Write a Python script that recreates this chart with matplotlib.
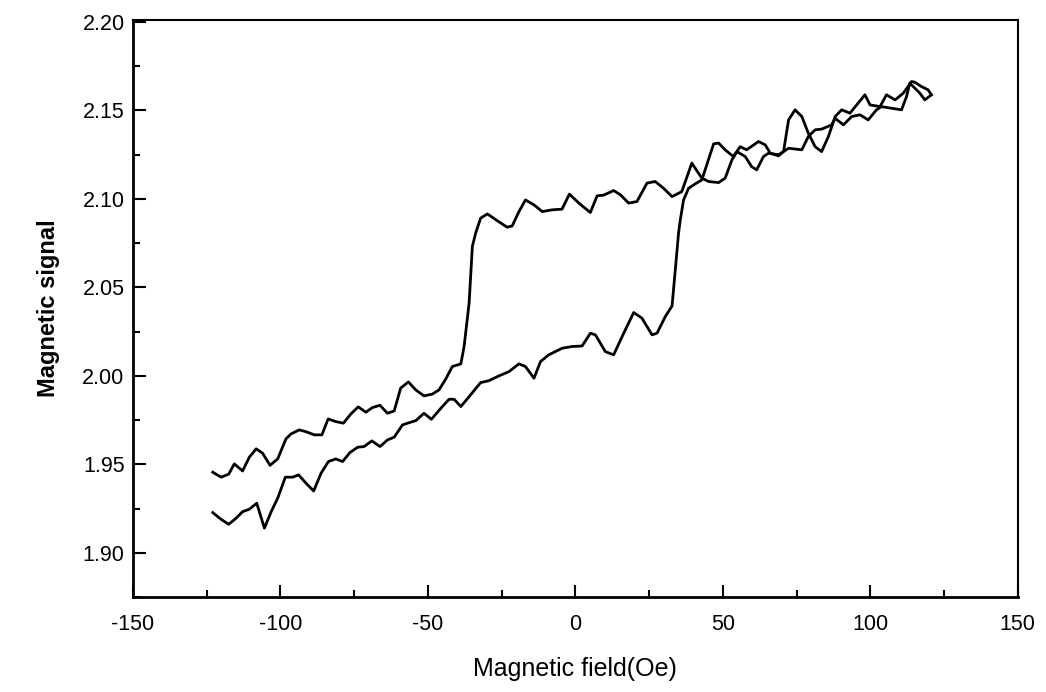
import numpy as np
import matplotlib
matplotlib.use("Agg")
import matplotlib.pyplot as plt
from matplotlib.ticker import MultipleLocator

plt.rcParams['font.family'] = ['Liberation Sans', 'DejaVu Sans']
plt.rcParams['axes.unicode_minus'] = False

# lower branch (field increasing)
h_up = [-122.9, -120.1, -117.5, -115.0, -112.8, -110.5, -108.0, -105.4, -103.1, -100.9,
        -98.3, -95.8, -93.8, -91.3, -88.7, -86.2, -83.7, -81.2, -78.9, -76.4,
        -73.8, -71.6, -69.0, -66.2, -63.7, -61.4, -58.6, -56.3, -54.1, -51.3,
        -48.8, -45.6, -42.8, -41.1, -38.8, -36.0, -32.1, -29.3, -25.9, -22.5,
        -19.1, -16.9, -14.0, -11.8, -9.0, -4.5, -1.1, 2.3, 5.1, 6.8,
        10.2, 13.0, 16.4, 19.8, 22.6, 26.0, 27.7, 30.5, 32.8, 33.9,
        35.0, 35.6, 36.7, 38.4, 40.7, 42.9, 46.9, 48.6, 50.8, 53.6,
        55.9, 58.1, 62.1, 64.4, 66.1, 68.9, 70.6, 72.3, 74.5, 76.8,
        79.0, 81.3, 83.5, 85.8, 88.1, 90.3, 93.1, 98.2, 99.9, 103.3,
        105.5, 108.4, 111.2, 114.0, 115.1, 117.4, 119.6, 120.7]
m_up = [1.9228, 1.9190, 1.9162, 1.9196, 1.9233, 1.9247, 1.9281, 1.9140, 1.9233, 1.9309,
        1.9428, 1.9428, 1.9441, 1.9394, 1.9350, 1.9450, 1.9516, 1.9531, 1.9516, 1.9567,
        1.9597, 1.9601, 1.9633, 1.9601, 1.9638, 1.9654, 1.9723, 1.9736, 1.9747, 1.9789,
        1.9755, 1.9817, 1.9868, 1.9868, 1.9827, 1.9883, 1.9962, 1.9973, 2.0000, 2.0024,
        2.0068, 2.0053, 1.9987, 2.0081, 2.0119, 2.0156, 2.0166, 2.0169, 2.0241, 2.0232,
        2.0137, 2.0119, 2.0241, 2.0358, 2.0326, 2.0232, 2.0241, 2.0335, 2.0395, 2.0599,
        2.0806, 2.0881, 2.0994, 2.1060, 2.1085, 2.1107, 2.1311, 2.1315, 2.1277, 2.1239,
        2.1295, 2.1277, 2.1324, 2.1305, 2.1258, 2.1243, 2.1267, 2.1446, 2.1503, 2.1465,
        2.1371, 2.1295, 2.1267, 2.1352, 2.1465, 2.1503, 2.1484, 2.1588, 2.1531, 2.1521,
        2.1588, 2.1559, 2.1597, 2.1663, 2.1659, 2.1634, 2.1616, 2.1588]

# upper branch (field decreasing), listed by increasing field
h_down = [-122.9, -120.1, -117.5, -115.6, -112.8, -110.5, -108.2, -106.0, -103.5, -100.9,
          -98.1, -96.4, -93.6, -91.3, -88.5, -85.9, -83.8, -81.2, -78.6, -76.1,
          -73.6, -71.0, -68.8, -66.2, -63.7, -61.4, -59.2, -56.6, -54.1, -51.3,
          -48.5, -46.2, -43.9, -41.7, -38.8, -37.7, -36.0, -34.9, -33.8, -32.1,
          -29.8, -26.5, -23.1, -21.4, -19.1, -16.9, -14.0, -11.2, -7.9, -4.5,
          -2.0, 1.2, 5.1, 7.4, 9.6, 13.0, 15.3, 18.1, 20.9, 24.3,
          27.1, 29.9, 32.8, 36.1, 39.5, 42.9, 45.2, 48.6, 50.8, 53.1,
          54.8, 57.6, 59.8, 61.5, 63.8, 65.5, 68.9, 72.3, 76.8, 79.0,
          81.3, 83.5, 86.9, 88.1, 90.9, 93.7, 96.5, 99.3, 102.1, 103.8,
          110.6, 112.3, 113.4, 116.8, 118.5, 120.7]
m_down = [1.9456, 1.9428, 1.9445, 1.9503, 1.9463, 1.9541, 1.9588, 1.9563, 1.9495, 1.9531,
          1.9644, 1.9672, 1.9695, 1.9685, 1.9667, 1.9667, 1.9757, 1.9742, 1.9733, 1.9785,
          1.9825, 1.9795, 1.9821, 1.9834, 1.9789, 1.9802, 1.9931, 1.9966, 1.9921, 1.9887,
          1.9897, 1.9921, 1.9983, 2.0053, 2.0068, 2.0166, 2.0411, 2.0731, 2.0806, 2.0891,
          2.0915, 2.0877, 2.0840, 2.0847, 2.0928, 2.0994, 2.0966, 2.0928, 2.0938, 2.0942,
          2.1027, 2.0976, 2.0923, 2.1017, 2.1021, 2.1047, 2.1023, 2.0976, 2.0985, 2.1089,
          2.1098, 2.1060, 2.1013, 2.1041, 2.1202, 2.1117, 2.1098, 2.1092, 2.1117, 2.1220,
          2.1267, 2.1239, 2.1182, 2.1164, 2.1239, 2.1258, 2.1249, 2.1286, 2.1277, 2.1352,
          2.1390, 2.1394, 2.1418, 2.1455, 2.1418, 2.1465, 2.1475, 2.1446, 2.1503, 2.1521,
          2.1503, 2.1578, 2.1654, 2.1597, 2.1559, 2.1588]

fig = plt.figure(figsize=(10.46, 6.92), dpi=100)
ax = fig.add_axes([0.127, 0.137, 0.846, 0.834])

ax.plot(h_up, m_up, color='black', lw=2.0)
ax.plot(h_down, m_down, color='black', lw=2.0)

ax.set_xlim(-150, 150)
ax.set_ylim(1.875, 2.201)
ax.xaxis.set_major_locator(MultipleLocator(50))
ax.xaxis.set_minor_locator(MultipleLocator(25))
ax.yaxis.set_major_locator(MultipleLocator(0.05))
ax.yaxis.set_minor_locator(MultipleLocator(0.025))
ax.xaxis.set_major_formatter(plt.FuncFormatter(lambda v, p: f"{v:.0f}"))
ax.yaxis.set_major_formatter(plt.FuncFormatter(lambda v, p: f"{v:.2f}"))

ax.tick_params(which='both', direction='in', top=False, right=False, labelsize=15.5, width=1.5)
ax.tick_params(which='major', length=9)
ax.tick_params(axis='y', which='major', pad=6)
ax.tick_params(axis='x', which='major', pad=12)
ax.tick_params(which='minor', length=5)
for s in ['left', 'bottom']:
    ax.spines[s].set_linewidth(2.0)
for s in ['top', 'right']:
    ax.spines[s].set_linewidth(1.5)

ax.set_xlabel("Magnetic field(Oe)", fontsize=18, labelpad=16)
ax.set_ylabel("Magnetic signal", fontsize=17, fontweight='bold', labelpad=16)

fig.savefig("out.png", dpi=100)
